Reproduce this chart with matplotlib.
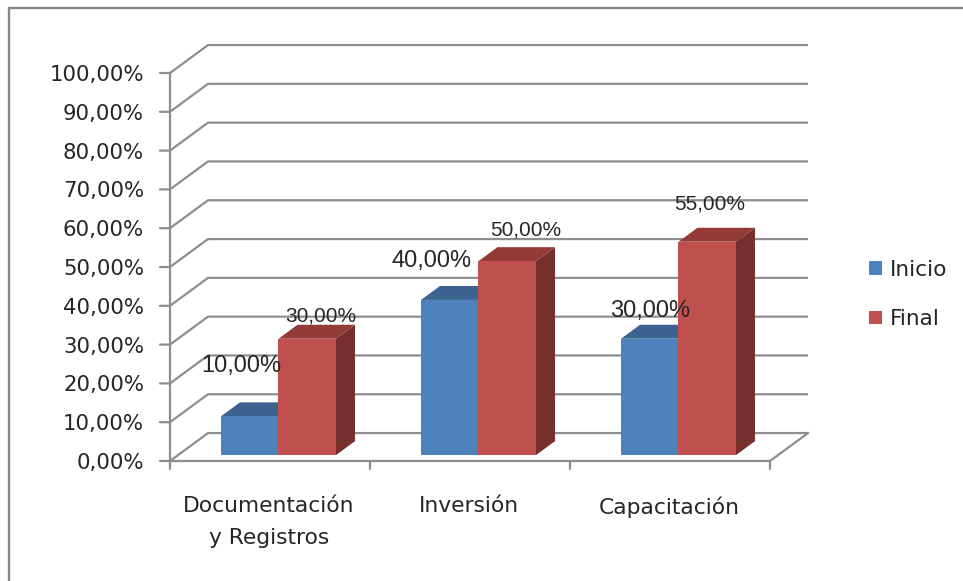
"""Barras 3D simuladas: Inicio / Final por categoria."""
import matplotlib
matplotlib.use("Agg")
import matplotlib.pyplot as plt
from matplotlib.patches import Patch, Polygon, Rectangle

categories = ["Documentación\ny Registros", "Inversión", "Capacitación"]
inicio = [10, 40, 30]
final = [30, 50, 55]
y_ticks = [0, 10, 20, 30, 40, 50, 60, 70, 80, 90, 100]

W, H = 963, 581
GRID = "#8e8e8e"
TEXT = "#262626"
BLUE = dict(front="#4f81bd", top="#3d6391", side="#345478")
RED = dict(front="#c0504d", top="#943a37", side="#772f2d")

# desplazamiento de profundidad, en unidades de datos
DEPTH_X = 0.19
DEPTH_Y = 7.2
BAR_W = 0.2875
GROUP_X = 0.215
BAR_D0, BAR_D1 = 0.21, 0.71

# offset de cada etiqueta en pixeles (inicio, final)
LABEL_OFF = [[(-8, 50), (14, 23)], [(-18, 39), (18, 31)], [(0, 28), (2, 38)]]
LABEL_SIZE = (17, 15)


def pr(x, y, d=0.0):
    return x + d * DEPTH_X, y + d * DEPTH_Y


fig = plt.figure(figsize=(W / 100, H / 100), dpi=100)
fig.patch.set_facecolor("white")

# marco exterior
fig.add_artist(Rectangle((9 / W, -0.02), (W + 20) / W, 1.02 - 7.5 / H, transform=fig.transFigure,
                         fill=False, ec="#868686", lw=1.7))

ax = fig.add_axes([170 / W, 1 - 461 / H, 600 / W, 388 / H])
ax.set_xlim(0, 3)
ax.set_ylim(0, 100)
ax.axis("off")

n_cat = len(categories)
for v in y_ticks:
    xs = [0, pr(0, v, 1)[0], pr(n_cat, v, 1)[0]]
    ys = [v, pr(0, v, 1)[1], pr(n_cat, v, 1)[1]]
    ax.plot(xs, ys, color=GRID, lw=1.6, clip_on=False, zorder=1, solid_capstyle="butt")
    ax.annotate("", xy=(0, v), xytext=(-10, 0), textcoords="offset pixels", annotation_clip=False,
                arrowprops=dict(arrowstyle="-", color=GRID, lw=1.6, shrinkA=0, shrinkB=0))
    ax.annotate(f"{v},00%", xy=(0, v), xytext=(-26, -2), textcoords="offset pixels", ha="right",
                va="center", fontsize=15.3, color=TEXT, annotation_clip=False, family="DejaVu Sans")

ax.plot([0, 0], [0, 100], color=GRID, lw=1.6, clip_on=False, zorder=1)
ax.plot([0, n_cat, pr(n_cat, 0, 1)[0]], [0, 0, pr(n_cat, 0, 1)[1]], color=GRID, lw=1.6, clip_on=False, zorder=1)

for i in range(n_cat + 1):
    ax.annotate("", xy=(i, 0), xytext=(0, -8), textcoords="offset pixels", annotation_clip=False,
                arrowprops=dict(arrowstyle="-", color=GRID, lw=1.6, shrinkA=0, shrinkB=0))


def bar3d(x0, v, colors, z):
    x1 = x0 + BAR_W
    a, b = BAR_D0, BAR_D1
    front = [pr(x0, 0, a), pr(x1, 0, a), pr(x1, v, a), pr(x0, v, a)]
    top = [pr(x0, v, a), pr(x1, v, a), pr(x1, v, b), pr(x0, v, b)]
    side = [pr(x1, 0, a), pr(x1, 0, b), pr(x1, v, b), pr(x1, v, a)]
    for pts, c in [(side, colors["side"]), (top, colors["top"]), (front, colors["front"])]:
        ax.add_patch(Polygon(pts, closed=True, fc=c, ec="none", zorder=z, clip_on=False))


for i in range(n_cat):
    x_ini = i + GROUP_X
    x_fin = x_ini + BAR_W
    bar3d(x_ini, inicio[i], BLUE, 2 + i)
    bar3d(x_fin, final[i], RED, 2.5 + i)
    for j, (x0, v) in enumerate([(x_ini, inicio[i]), (x_fin, final[i])]):
        ax.annotate(f"{v},00%", xy=pr(x0 + BAR_W / 2, v, BAR_D0), xytext=LABEL_OFF[i][j],
                    textcoords="offset pixels", ha="center", va="center", fontsize=LABEL_SIZE[j],
                    color=TEXT, family="Liberation Sans", zorder=10, annotation_clip=False)
    ax.annotate(categories[i], xy=(i + 0.495, 0), xytext=(0, -35), textcoords="offset pixels",
                ha="center", va="top", fontsize=15.7, color=TEXT, linespacing=1.78,
                family="DejaVu Sans", annotation_clip=False)

handles = [Patch(fc=BLUE["front"], label="Inicio"), Patch(fc=RED["front"], label="Final")]
fig.legend(handles=handles, loc="center left", bbox_to_anchor=(849 / W, 1 - 294.5 / H), frameon=False,
           fontsize=15.6, labelcolor=TEXT, handlelength=0.6, handleheight=0.6, handletextpad=0.4,
           labelspacing=1.35)

fig.savefig("out.png", dpi=100)
